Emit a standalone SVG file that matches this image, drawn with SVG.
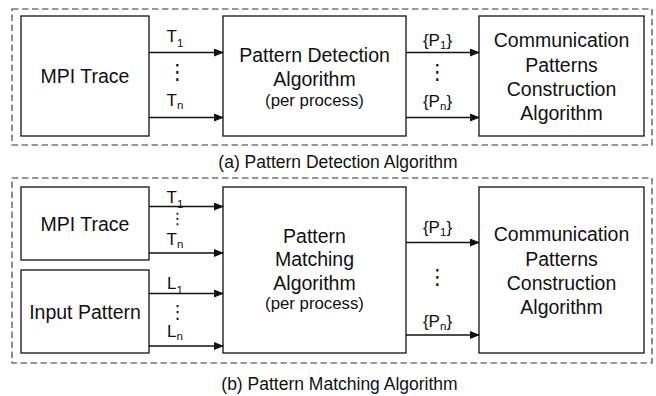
<svg xmlns="http://www.w3.org/2000/svg" width="656" height="396" viewBox="0 0 656 396">
  <defs>
    <marker id="arrow" markerWidth="10" markerHeight="8" refX="9" refY="4" orient="auto" markerUnits="userSpaceOnUse">
      <path d="M0,0 L10,4 L0,8 Z" fill="#111"/>
    </marker>
    <style>
      text { font-family: "Liberation Sans", Arial, sans-serif; fill: #111; }
      .box { fill: #fff; stroke: #111; stroke-width: 1.3; }
      .frame { fill: none; stroke: #333; stroke-width: 1.1; stroke-dasharray: 6.5 3.5; }
      .edge { fill: none; stroke: #111; stroke-width: 1.3; marker-end: url(#arrow); }
      .big { font-size: 19.5px; text-anchor: middle; }
      .small { font-size: 16.8px; text-anchor: middle; }
      .lbl { font-size: 17px; text-anchor: middle; }
      .sub { font-size: 11.5px; }
      .dots { font-family: "DejaVu Sans", sans-serif; font-size: 21px; text-anchor: middle; }
      .dots.mid { font-size: 18px; }
      .dots.tight { font-size: 16px; }
      .cap { font-size: 17.5px; text-anchor: middle; }
    </style>
  </defs>

  <!-- (a) detection pipeline -->
  <rect class="frame" x="12" y="9" width="640" height="136"/>
  <g id="a-trace">
    <rect class="box" x="21" y="16" width="128" height="120"/>
    <text class="big" x="85" y="83">MPI Trace</text>
  </g>
  <g id="a-detect">
    <rect class="box" x="223" y="16" width="183" height="120"/>
    <text class="big" x="314.5" y="62">Pattern Detection</text>
    <text class="big" x="314.5" y="85.5">Algorithm</text>
    <text class="small" x="314.5" y="106">(per process)</text>
  </g>
  <g id="a-construct">
    <rect class="box" x="479" y="16" width="165" height="120"/>
    <text class="big" x="561.5" y="47">Communication</text>
    <text class="big" x="561.5" y="71.5">Patterns</text>
    <text class="big" x="561.5" y="95.5">Construction</text>
    <text class="big" x="561.5" y="119.5">Algorithm</text>
  </g>
  <text class="cap" x="338" y="168">(a) Pattern Detection Algorithm</text>

  <!-- (b) matching pipeline -->
  <rect class="frame" x="12" y="178" width="640" height="185"/>
  <g id="b-trace">
    <rect class="box" x="21" y="187" width="128" height="73"/>
    <text class="big" x="85" y="231">MPI Trace</text>
  </g>
  <g id="b-input">
    <rect class="box" x="21" y="270" width="128" height="83"/>
    <text class="big" x="85" y="319">Input Pattern</text>
  </g>
  <g id="b-match">
    <rect class="box" x="223" y="187" width="183" height="166"/>
    <text class="big" x="314.5" y="242.5">Pattern</text>
    <text class="big" x="314.5" y="266">Matching</text>
    <text class="big" x="314.5" y="290">Algorithm</text>
    <text class="small" x="314.5" y="309">(per process)</text>
  </g>
  <g id="b-construct">
    <rect class="box" x="479" y="187" width="165" height="166"/>
    <text class="big" x="561.5" y="241">Communication</text>
    <text class="big" x="561.5" y="265.5">Patterns</text>
    <text class="big" x="561.5" y="290">Construction</text>
    <text class="big" x="561.5" y="313.5">Algorithm</text>
  </g>
  <text class="cap" x="339.5" y="390">(b) Pattern Matching Algorithm</text>

  <!-- connectors -->
  <g id="connectors">
    <path class="edge" d="M149,52.5 H223"/>
    <path class="edge" d="M149,117.5 H223"/>
    <path class="edge" d="M406,52.5 H479"/>
    <path class="edge" d="M406,117.5 H479"/>
    <path class="edge" d="M149,206.5 H223"/>
    <path class="edge" d="M149,253 H223"/>
    <path class="edge" d="M149,293.5 H223"/>
    <path class="edge" d="M149,346 H223"/>
    <path class="edge" d="M406,242.5 H479"/>
    <path class="edge" d="M406,335 H479"/>
  </g>

  <!-- connector labels -->
  <g id="labels">
    <text class="lbl" x="175" y="42">T<tspan class="sub" dy="5">1</tspan></text>
    <text class="dots" x="177.5" y="78.5">⋮</text>
    <text class="lbl" x="175" y="106">T<tspan class="sub" dy="3">n</tspan></text>
    <text class="lbl" x="437.5" y="46">{P<tspan class="sub" dy="3">1</tspan><tspan dy="-3">}</tspan></text>
    <text class="dots" x="437.5" y="79">⋮</text>
    <text class="lbl" x="437.5" y="107">{P<tspan class="sub" dy="3">n</tspan><tspan dy="-3">}</tspan></text>

    <text class="lbl" x="175" y="203">T<tspan class="sub" dy="5">1</tspan></text>
    <text class="dots tight" x="177.5" y="224">⋮</text>
    <text class="lbl" x="175" y="245">T<tspan class="sub" dy="3">n</tspan></text>
    <text class="lbl" x="175" y="289">L<tspan class="sub" dy="5">1</tspan></text>
    <text class="dots mid" x="177.5" y="318">⋮</text>
    <text class="lbl" x="175" y="337">L<tspan class="sub" dy="3">n</tspan></text>
    <text class="lbl" x="437.5" y="233">{P<tspan class="sub" dy="3">1</tspan><tspan dy="-3">}</tspan></text>
    <text class="dots" x="437.5" y="284">⋮</text>
    <text class="lbl" x="437.5" y="327">{P<tspan class="sub" dy="3">n</tspan><tspan dy="-3">}</tspan></text>
  </g>
</svg>
